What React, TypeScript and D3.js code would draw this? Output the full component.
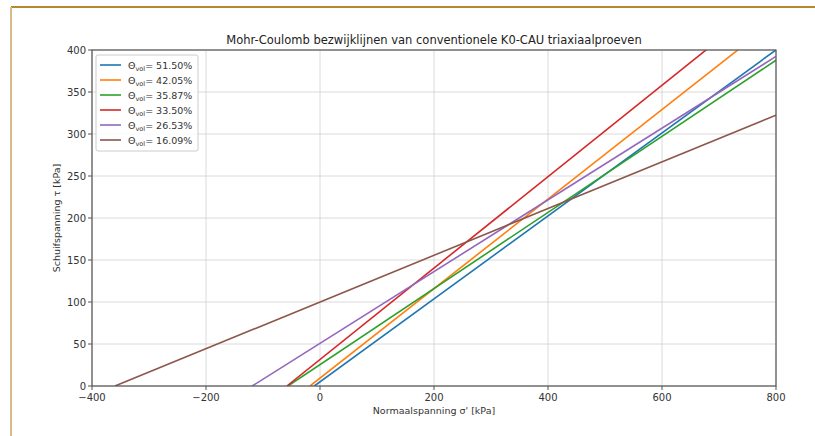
import React from "react";
import * as d3 from "d3";

const labels = ["51.50%", "42.05%", "35.87%", "33.50%", "26.53%", "16.09%"];
const cohesion = [4.9, 9.3, 25.4, 31.6, 50.8, 100];
const slopes = [0.494, 0.533, 0.453, 0.544, 0.427, 0.278];
const colors = ["#1f77b4", "#ff7f0e", "#2ca02c", "#d62728", "#9467bd", "#8c564b"];
const xTicks = [-400, -200, 0, 200, 400, 600, 800];
const yTicks = [0, 50, 100, 150, 200, 250, 300, 350, 400];

const W = 815, H = 436;
const L = 92, R = 776, T = 50, B = 386;

export default function App() {
  const x = d3.scaleLinear().domain([-400, 800]).range([L, R]);
  const y = d3.scaleLinear().domain([0, 400]).range([B, T]);
  const line = d3.line<[number, number]>().x(d => x(d[0])).y(d => y(d[1]));
  const font = "DejaVu Sans, sans-serif";
  return (
    <svg width={W} height={H} style={{ position: "absolute", left: 0, top: 0, background: "#fff" }}>
      <rect x={0} y={0} width={W} height={H} fill="#fff" />
      <line x1={11} x2={W} y1={7} y2={7} stroke="#b8862e" strokeWidth={2} />
      <line x1={11} x2={11} y1={7} y2={H} stroke="#d8bc86" strokeWidth={2} />
      <defs>
        <clipPath id="clip"><rect x={L} y={T} width={R - L} height={B - T} /></clipPath>
      </defs>
      {xTicks.map(t => (
        <line key={"gx" + t} x1={x(t)} x2={x(t)} y1={T} y2={B} stroke="#d0d0d0" strokeWidth={0.8} />
      ))}
      {yTicks.map(t => (
        <line key={"gy" + t} x1={L} x2={R} y1={y(t)} y2={y(t)} stroke="#d0d0d0" strokeWidth={0.8} />
      ))}
      <g clipPath="url(#clip)">
        {labels.map((l, i) => {
          const x0 = -cohesion[i] / slopes[i];
          const pts: [number, number][] = [[x0, 0], [800, cohesion[i] + slopes[i] * 800]];
          return <path key={l} d={line(pts) || ""} fill="none" stroke={colors[i]} strokeWidth={1.6} />;
        })}
      </g>
      <rect x={L} y={T} width={R - L} height={B - T} fill="none" stroke="#555" strokeWidth={1.2} />
      {xTicks.map(t => (
        <g key={"tx" + t}>
          <line x1={x(t)} x2={x(t)} y1={B} y2={B + 4} stroke="#555" />
          <text x={x(t)} y={B + 15} textAnchor="middle" fontSize={10} fontFamily={font} fill="#333">
            {t < 0 ? "\u2212" + Math.abs(t) : t}
          </text>
        </g>
      ))}
      {yTicks.map(t => (
        <g key={"ty" + t}>
          <line x1={L - 4} x2={L} y1={y(t)} y2={y(t)} stroke="#555" />
          <text x={L - 6} y={y(t) + 3.5} textAnchor="end" fontSize={10} fontFamily={font} fill="#333">{t}</text>
        </g>
      ))}
      <text x={(L + R) / 2} y={44} textAnchor="middle" fontSize={11.5} fontFamily={font} fill="#222">
        Mohr-Coulomb bezwijklijnen van conventionele K0-CAU triaxiaalproeven
      </text>
      <text x={(L + R) / 2} y={414} textAnchor="middle" fontSize={9.5} fontFamily={font} fill="#333">
        Normaalspanning σ' [kPa]
      </text>
      <text transform={`translate(60,${(T + B) / 2}) rotate(-90)`} textAnchor="middle" fontSize={9.5} fontFamily={font} fill="#333">
        Schuifspanning τ [kPa]
      </text>
      <g transform="translate(96,55)">
        <rect x={0} y={0} width={102} height={96} rx={2} fill="#fff" fillOpacity={0.85} stroke="#ccc" />
        {labels.map((l, i) => (
          <g key={"lg" + l} transform={`translate(0,${10 + i * 15})`}>
            <line x1={4} x2={25} y1={0} y2={0} stroke={colors[i]} strokeWidth={1.6} />
            <text x={32} y={3.5} fontSize={9.5} fontFamily={font} fill="#333">
              Θ<tspan fontSize={6.5} dy={2.5}>vol</tspan><tspan dy={-2.5}>= {l}</tspan>
            </text>
          </g>
        ))}
      </g>
    </svg>
  );
}
